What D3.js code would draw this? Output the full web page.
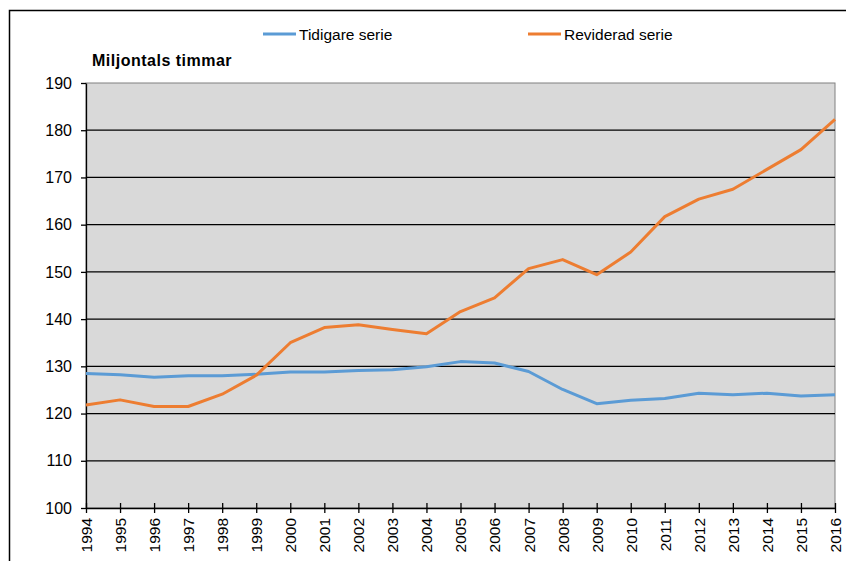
<!DOCTYPE html>
<html>
<head>
<meta charset="utf-8">
<script src="https://cdn.jsdelivr.net/npm/d3@7"></script>
<style>
  body { margin: 0; background: #fff; }
  text { font-family: "Liberation Sans", Arial, sans-serif; fill: #000; }
</style>
</head>
<body>
<div id="chart"></div>
<script>
const years = d3.range(1994, 2017)
const tidigare = [128.5, 128.2, 127.7, 128.0, 128.0, 128.3, 128.8, 128.8, 129.1, 129.3, 129.9, 131.0, 130.7, 128.9, 125.1, 122.1, 122.8, 123.2, 124.3, 124.0, 124.3, 123.7, 124.0]
const reviderad = [121.8, 122.9, 121.5, 121.5, 124.1, 128.1, 135.0, 138.2, 138.8, 137.8, 136.9, 141.6, 144.5, 150.7, 152.6, 149.4, 154.2, 161.7, 165.4, 167.5, 171.7, 175.9, 182.3]
const yTicks = d3.range(100, 200, 10)
const seriesNames = ["Tidigare serie", "Reviderad serie"]
const seriesColors = ["#5b9bd5", "#ed7d31"]

const width = 846
const height = 561
const plotLeft = 86, plotRight = 835, plotTop = 83, plotBottom = 508

const svg = d3.select("#chart")
              .append("svg")
              .attr("width", width)
              .attr("height", height)

// outer chart frame (runs past the picture edge)
svg.append("rect")
   .attr("x", 9.5)
   .attr("y", 10.5)
   .attr("width", 900)
   .attr("height", 600)
   .attr("fill", "none")
   .attr("stroke", "#000")
   .attr("stroke-width", 1.5)

const x = d3.scaleLinear().domain([1994, 2016]).range([plotLeft, plotRight])
const y = d3.scaleLinear().domain([100, 190]).range([plotBottom, plotTop])

svg.append("rect")
   .attr("x", plotLeft)
   .attr("y", plotTop)
   .attr("width", plotRight - plotLeft)
   .attr("height", plotBottom - plotTop)
   .attr("fill", "#d9d9d9")
   .attr("stroke", "#808080")
   .attr("stroke-width", 1)

// gridlines
svg.append("g")
   .selectAll("line")
   .data(yTicks.filter(d => d > 100 && d < 190))
   .enter()
   .append("line")
   .attr("x1", plotLeft)
   .attr("x2", plotRight)
   .attr("y1", d => y(d))
   .attr("y2", d => y(d))
   .attr("stroke", "#000")
   .attr("stroke-width", 1.3)

// y axis
const yAxis = d3.axisLeft(y).tickValues(yTicks).tickSize(5).tickPadding(9).tickSizeOuter(0)
const gy = svg.append("g")
              .attr("transform", `translate(${plotLeft},0)`)
              .call(yAxis)
gy.select(".domain").attr("stroke", "#000").attr("stroke-width", 1.3)
gy.selectAll(".tick line").attr("stroke", "#000").attr("stroke-width", 1.3)
gy.selectAll(".tick text")
  .style("font-family", "'Liberation Sans', Arial, sans-serif")
  .style("font-size", "16px")
  .attr("fill", "#000")

// x axis, ticks cross the axis line
const xAxis = d3.axisBottom(x).tickValues(years).tickFormat(d3.format("d")).tickSize(5).tickSizeOuter(0)
const gx = svg.append("g")
              .attr("transform", `translate(0,${plotBottom})`)
              .call(xAxis)
gx.select(".domain").attr("stroke", "#000").attr("stroke-width", 1.5)
gx.selectAll(".tick line").attr("y1", -5).attr("stroke", "#000").attr("stroke-width", 1.3)
gx.selectAll(".tick text")
  .style("font-family", "'Liberation Sans', Arial, sans-serif")
  .style("font-size", "15.5px")
  .attr("fill", "#000")
  .attr("text-anchor", "end")
  .attr("dy", "0.35em")
  .attr("transform", "translate(0,10) rotate(-90)")
  .attr("x", 0)
  .attr("y", 0)

// lines
const line = d3.line()
               .x((d, i) => x(years[i]))
               .y(d => y(d))

;[tidigare, reviderad].forEach((s, i) => {
  svg.append("path")
     .datum(s)
     .attr("fill", "none")
     .attr("stroke", seriesColors[i])
     .attr("stroke-width", 3)
     .attr("stroke-linejoin", "round")
     .attr("d", line)
})

// unit title
svg.append("text")
   .attr("x", 92)
   .attr("y", 66)
   .style("font-size", "16px")
   .style("font-weight", "bold")
   .style("letter-spacing", "0.5px")
   .text("Miljontals timmar")

// legend
const legendX = [263, 528]
const legend = svg.append("g")
                  .selectAll("g")
                  .data(seriesNames)
                  .enter()
                  .append("g")
                  .attr("transform", (d, i) => `translate(${legendX[i]},34)`)

legend.append("line")
      .attr("x1", 0)
      .attr("x2", 33)
      .attr("stroke", (d, i) => seriesColors[i])
      .attr("stroke-width", 3)

legend.append("text")
      .attr("x", 36)
      .attr("y", 5.5)
      .style("font-size", "15.5px")
      .text(d => d)
</script>
</body>
</html>
